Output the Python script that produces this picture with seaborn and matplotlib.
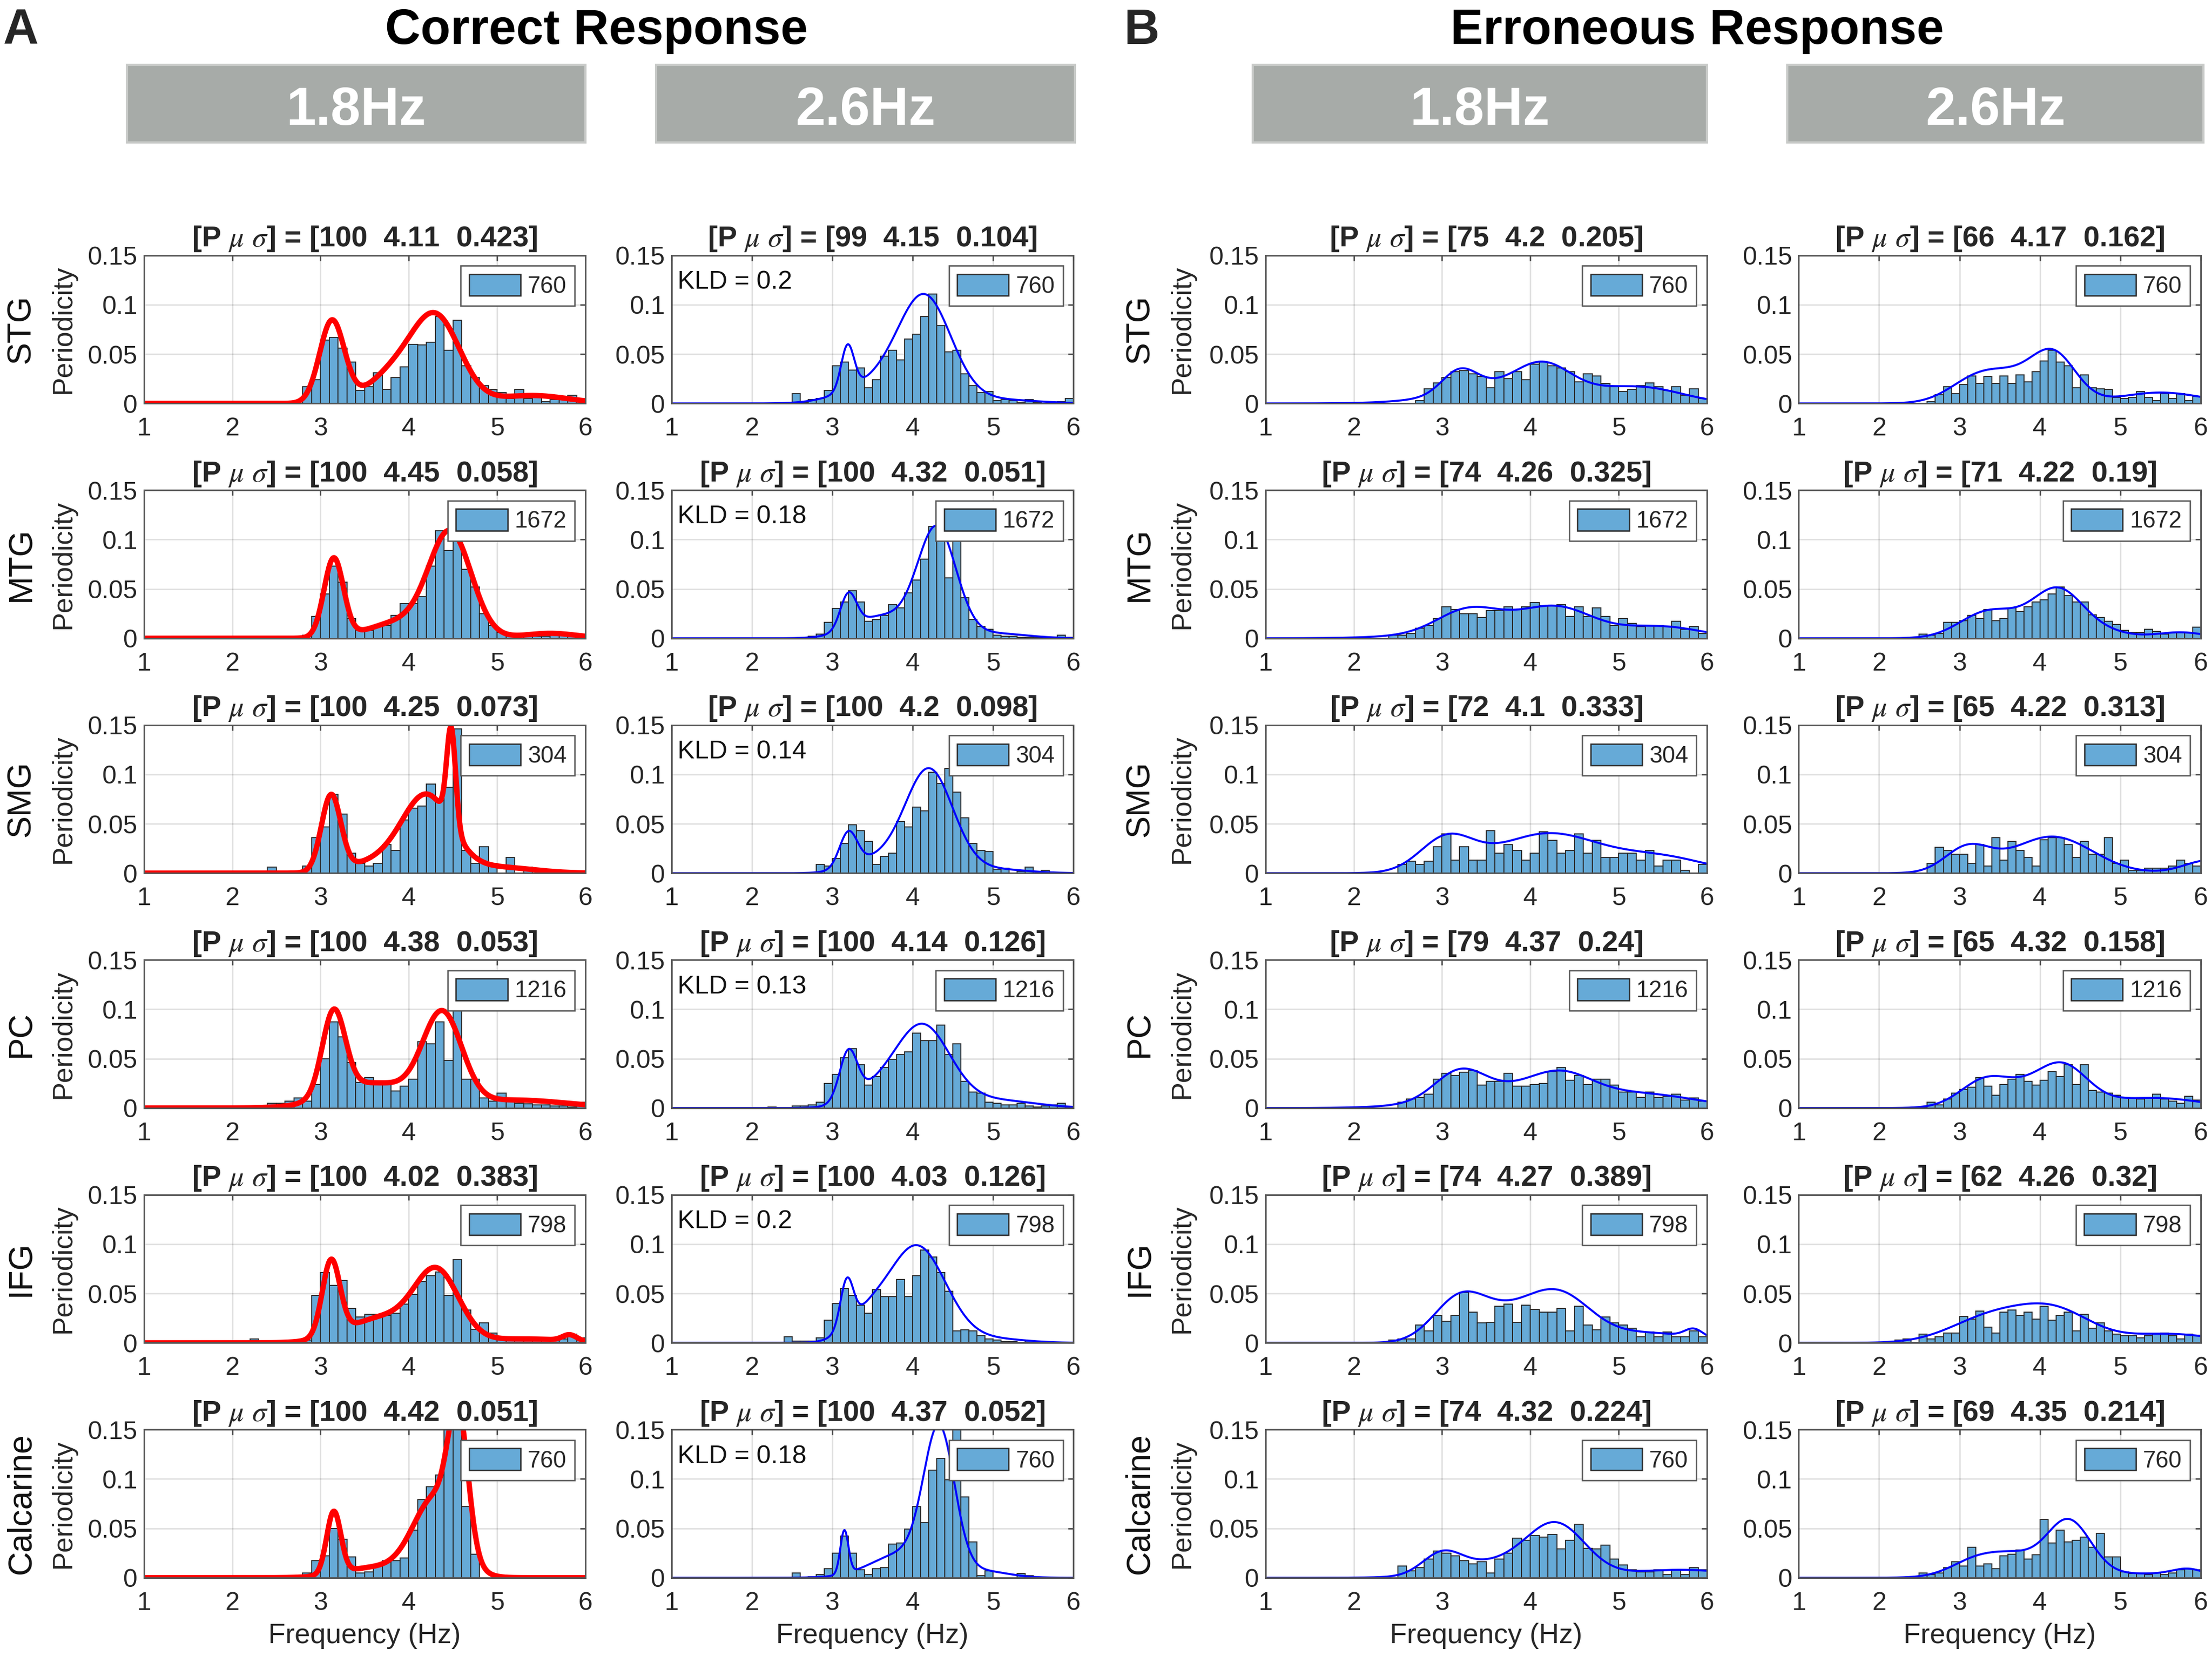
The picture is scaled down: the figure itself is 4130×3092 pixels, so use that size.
import numpy as np
import pandas as pd
import matplotlib
matplotlib.use('Agg')
import matplotlib.pyplot as plt
from matplotlib.patches import Patch, Rectangle
import seaborn as sns

# ----------------------------------------- data -----------------------------------------
regions = ['STG', 'MTG', 'SMG', 'PC', 'IFG', 'Calcarine']
counts = [760, 1672, 304, 1216, 798, 760]
freq_tags = ['1.8Hz', '2.6Hz', '1.8Hz', '2.6Hz']

# histogram bins are 0.1 Hz wide, values below start at 2.0 Hz (nothing drawn below that)
bin_start, bin_width = 2.0, 0.1

# [P mu sigma] titles
params_c18 = ['100  4.11  0.423', '100  4.45  0.058', '100  4.25  0.073', '100  4.38  0.053', '100  4.02  0.383', '100  4.42  0.051']
params_c26 = ['99  4.15  0.104', '100  4.32  0.051', '100  4.2  0.098', '100  4.14  0.126', '100  4.03  0.126', '100  4.37  0.052']
params_e18 = ['75  4.2  0.205', '74  4.26  0.325', '72  4.1  0.333', '79  4.37  0.24', '74  4.27  0.389', '74  4.32  0.224']
params_e26 = ['66  4.17  0.162', '71  4.22  0.19', '65  4.22  0.313', '65  4.32  0.158', '62  4.26  0.32', '69  4.35  0.214']
kld_c26 = ['0.2', '0.18', '0.14', '0.13', '0.2', '0.18']

# correct response, 1.8Hz
hist_c18_stg = [0,0,0,0,0,0,0,0,.017,.024, .064,.067,.056,.042,.013,.017,.031,.014,.026,.037, .060,.059,.062,.088,.054,.084,.038,.026,.018,.014, .011,.005,.014,.005,.006,.002,.004,.005,.008,.003]
hist_c18_mtg = [0,0,0,0,0,0,0,0,.003,.022, .045,.073,.057,.020,.008,.008,.013,.013,.023,.035, .035,.042,.073,.109,.089,.106,.070,.052,.025,.013, .006,.004,.003,.002,.002,.002,.003,.003,.002,.001]
hist_c18_smg = [0,0,0,0,.006,0,0,0,.007,.036, .047,.080,.060,.020,.010,.007,.010,.029,.023,.054, .066,.068,.090,.075,.087,.146,.023,.010,.027,.010, 0,.016,0,.006,0,0,0,0,0,0]
hist_c18_pc = [0,0,0,0,.005,.005,.007,.010,.007,.024, .050,.087,.072,.046,.026,.031,.027,.026,.017,.022, .029,.067,.065,.087,.048,.100,.029,.029,.010,.007, .015,.007,.005,.004,.003,.003,.002,.002,.001,.006]
hist_c18_ifg = [0,0,.004,0,0,0,0,.003,.003,.048, .071,.058,.063,.035,.026,.029,.029,.028,.030,.039, .049,.062,.068,.072,.048,.084,.033,.014,.020,.010, .006,.005,.004,.004,.003,.003,.003,.004,.009,.005]
hist_c18_calc = [0,0,0,0,0,0,0,0,.005,.017, .022,.050,.039,.021,.005,.006,.012,.017,.017,.020, .048,.079,.092,.104,.160,.160,.072,.024,0,0, 0,0,0,0,0,0,0,0,0,0]

# correct response, 2.6Hz
hist_c26_stg = [0,0,0,0,0,.010,.001,.004,.005,.013, .038,.042,.034,.036,.016,.024,.048,.054,.044,.065, .070,.088,.111,.079,.052,.054,.030,.018,.011,.012, .003,.004,.003,.001,.004,.001,0,0,.002,.005]
hist_c26_mtg = [0,0,0,0,0,0,0,.002,.004,.016, .030,.037,.048,.037,.017,.019,.023,.034,.031,.046, .059,.080,.113,.112,.061,.105,.041,.019,.012,.009, .003,.002,.002,.001,.001,.001,.001,.001,.003,.001]
hist_c26_smg = [0,0,0,0,0,0,0,0,.009,.007, .015,.030,.049,.043,.032,.009,.017,.020,.052,.047, .067,.063,.102,.091,.106,.082,.056,.030,.023,.022, .004,.005,0,.002,.006,0,.003,0,0,0]
hist_c26_pc = [0,0,.001,0,0,.002,.002,.003,.006,.025, .034,.051,.060,.044,.023,.032,.041,.049,.054,.057, .076,.068,.068,.084,.054,.065,.027,.016,.015,.006, .005,.003,.003,.005,.002,.001,.002,.003,.005,.001]
hist_c26_ifg = [0,0,0,0,.006,.002,.002,.002,.005,.023, .040,.055,.048,.038,.030,.054,.047,.047,.064,.047, .068,.094,.087,.071,.052,.012,.013,.012,.007,.004, .003,.001,.001,0,.002,.002,0,0,0,0]
hist_c26_calc = [0,0,0,0,0,.005,0,.001,.003,.009, .025,.042,.025,.008,.003,.009,.010,.034,.035,.049, .072,.056,.109,.121,.099,.155,.082,.036,.002,.007, 0,0,0,.004,.002,0,0,0,0,0]

# erroneous response, 1.8Hz
hist_e18_stg = [0,0,0,0,0,0,0,.003,.015,.021, .026,.032,.033,.030,.027,.016,.032,.025,.032,.024, .040,.042,.038,.036,.032,.022,.030,.028,.020,.017, .012,.014,.018,.021,.017,.013,.017,.008,.015,.005]
hist_e18_mtg = [0,0,0,0,.003,.003,.005,.010,.013,.020, .032,.029,.025,.025,.021,.028,.028,.032,.029,.032, .036,.033,.033,.034,.022,.032,.022,.031,.022,.013, .020,.015,.012,.013,.013,.012,.017,.009,.012,.005]
hist_e18_smg = [0,0,0,0,0,.009,.012,.009,.012,.027, .040,.013,.027,.013,.013,.043,.020,.029,.023,.013, .020,.042,.033,.020,.023,.040,.020,.033,.016,.016, .020,.020,.013,.023,.007,.013,.013,.003,0,.009]
hist_e18_pc = [0,0,0,0,0,.006,.009,.011,.014,.029, .035,.033,.036,.038,.023,.027,.027,.035,.022,.022, .024,.025,.037,.041,.028,.033,.024,.029,.029,.023, .016,.016,.011,.016,.011,.012,.014,.008,.010,.007]
hist_e18_ifg = [0,0,0,0,.003,.004,.004,.018,.012,.028, .022,.028,.051,.031,.020,.021,.037,.039,.021,.038, .034,.031,.031,.035,.012,.037,.018,.013,.026,.020, .018,.015,.006,.011,.006,.011,.006,.006,.012,.006]
hist_e18_calc = [0,0,0,0,0,.012,.007,.010,.019,.027, .025,.022,.017,.014,.016,.005,.019,.025,.040,.038, .043,.041,.044,.029,.038,.054,.030,.029,.033,.019, .013,.008,.006,.006,.008,.003,.008,.003,.010,.008]

# erroneous response, 2.6Hz
hist_e26_stg = [0,0,0,0,0,0,.002,.009,.017,.010, .019,.028,.020,.027,.020,.028,.020,.029,.022,.032, .043,.054,.042,.038,.016,.029,.016,.015,.014,.006, .005,.006,.012,.006,.003,.010,.005,.010,.003,.007]
hist_e26_mtg = [0,0,0,0,0,.004,.003,.005,.016,.016, .018,.023,.020,.029,.018,.020,.031,.027,.032,.037, .039,.045,.052,.043,.037,.037,.024,.021,.017,.014, .008,.006,.006,.009,.007,.004,.006,.006,.006,.011]
hist_e26_smg = [0,0,0,0,0,0,.010,.026,.023,.019, .019,.010,.029,.007,.036,.013,.032,.023,.016,.007, .034,.036,.036,.029,.016,.032,.019,.019,.036,.010, .013,.003,.003,.005,.005,.005,.007,.013,.010,.007]
hist_e26_pc = [0,0,0,0,0,.001,.006,.003,.009,.015, .019,.021,.031,.022,.013,.024,.029,.034,.027,.023, .028,.037,.032,.044,.024,.044,.018,.016,.015,.013, .010,.010,.009,.010,.014,.009,.007,.005,.012,.008]
hist_e26_ifg = [0,0,.003,.004,0,.009,.004,.006,.010,.010, .027,.024,.032,.016,.010,.031,.033,.028,.031,.024, .037,.023,.028,.031,.012,.029,.015,.020,.012,.009, .007,.007,.005,.007,.009,.010,.007,.004,.009,.008]
hist_e26_calc = [0,0,0,0,0,.005,.003,.005,.010,.016, .012,.031,.012,.014,.009,.022,.024,.028,.019,.023, .059,.035,.048,.036,.038,.041,.031,.045,.021,.021, .006,.004,.004,.003,.005,.003,.005,.008,.009,.008]

fit_c18_stg = [(3.13, 0.14, 0.083), (4.32, 0.27, 0.082), (3.85, 0.30, 0.030), (5.4, 0.40, 0.008)]
fit_c18_mtg = [(3.15, 0.11, 0.080), (4.47, 0.24, 0.105), (3.9, 0.35, 0.016), (5.6, 0.30, 0.005)]
fit_c18_smg = [(3.12, 0.11, 0.077), (4.2, 0.28, 0.078), (4.48, 0.05, 0.098), (3.6, 0.30, 0.010), (5.0, 0.40, 0.006)]
fit_c18_pc = [(3.15, 0.13, 0.085), (4.38, 0.22, 0.090), (3.6, 0.45, 0.025), (5.2, 0.60, 0.008)]
fit_c18_ifg = [(3.12, 0.10, 0.076), (4.32, 0.25, 0.068), (3.7, 0.40, 0.025), (5.82, 0.08, 0.006), (5.3, 0.50, 0.004)]
fit_c18_calc = [(3.15, 0.08, 0.063), (4.56, 0.11, 0.130), (4.3, 0.25, 0.080), (3.6, 0.35, 0.010)]

fit_c26_stg = [(3.19, 0.08, 0.045), (4.15, 0.33, 0.105), (3.5, 0.40, 0.018), (5.0, 0.50, 0.004)]
fit_c26_mtg = [(3.2, 0.10, 0.035), (4.3, 0.24, 0.110), (3.6, 0.35, 0.022), (5.0, 0.40, 0.005)]
fit_c26_smg = [(3.2, 0.11, 0.035), (4.2, 0.30, 0.105), (3.5, 0.30, 0.012), (5.0, 0.40, 0.004)]
fit_c26_pc = [(3.2, 0.11, 0.049), (4.12, 0.34, 0.082), (3.5, 0.30, 0.014), (5.0, 0.50, 0.008)]
fit_c26_ifg = [(3.18, 0.08, 0.047), (4.05, 0.36, 0.098), (3.4, 0.25, 0.020), (5.0, 0.40, 0.004)]
fit_c26_calc = [(3.15, 0.05, 0.044), (4.33, 0.19, 0.140), (3.9, 0.40, 0.025), (4.9, 0.30, 0.006)]

fit_e18_stg = [(3.2, 0.20, 0.023), (4.15, 0.30, 0.023), (5.3, 0.45, 0.014), (3.9, 0.70, 0.020)]
fit_e18_mtg = [(3.3, 0.35, 0.022), (4.3, 0.40, 0.024), (5.5, 0.45, 0.011), (3.8, 0.80, 0.010)]
fit_e18_smg = [(3.05, 0.30, 0.033), (4.2, 0.60, 0.040), (5.5, 0.50, 0.015)]
fit_e18_pc = [(3.2, 0.28, 0.027), (4.35, 0.35, 0.021), (5.3, 0.60, 0.013), (3.8, 0.70, 0.018)]
fit_e18_ifg = [(3.2, 0.30, 0.042), (4.35, 0.35, 0.040), (3.8, 0.40, 0.026), (5.85, 0.10, 0.008), (5.3, 0.60, 0.010)]
fit_e18_calc = [(3.0, 0.22, 0.020), (4.3, 0.33, 0.050), (5.7, 0.60, 0.008), (3.6, 0.50, 0.015)]

fit_e26_stg = [(3.25, 0.35, 0.027), (4.17, 0.28, 0.049), (5.5, 0.50, 0.011), (3.7, 0.30, 0.015)]
fit_e26_mtg = [(3.35, 0.35, 0.026), (4.22, 0.30, 0.045), (5.75, 0.30, 0.006), (3.8, 0.30, 0.006), (4.7, 0.35, 0.008)]
fit_e26_smg = [(3.1, 0.28, 0.025), (4.15, 0.50, 0.037), (6.1, 0.30, 0.013)]
fit_e26_pc = [(3.3, 0.30, 0.021), (4.3, 0.30, 0.030), (3.9, 0.50, 0.020), (5.45, 0.55, 0.010)]
fit_e26_ifg = [(3.4, 0.50, 0.026), (4.2, 0.45, 0.030), (5.6, 0.55, 0.009)]
fit_e26_calc = [(3.3, 0.35, 0.022), (4.35, 0.28, 0.058), (5.85, 0.20, 0.007), (3.75, 0.25, 0.012), (5.3, 0.50, 0.004)]

# ----------------------------------------- helpers -----------------------------------------
def fit_curve(x, comps):
    y = np.zeros_like(x)
    for mu, sd, amp in comps:
        y += amp * np.exp(-0.5 * ((x - mu) / sd) ** 2)
    return y

columns = [
    dict(hists=[hist_c18_stg, hist_c18_mtg, hist_c18_smg, hist_c18_pc, hist_c18_ifg, hist_c18_calc],
         fits=[fit_c18_stg, fit_c18_mtg, fit_c18_smg, fit_c18_pc, fit_c18_ifg, fit_c18_calc],
         params=params_c18, color='#ff0000', lw=2.4, kld=None),
    dict(hists=[hist_c26_stg, hist_c26_mtg, hist_c26_smg, hist_c26_pc, hist_c26_ifg, hist_c26_calc],
         fits=[fit_c26_stg, fit_c26_mtg, fit_c26_smg, fit_c26_pc, fit_c26_ifg, fit_c26_calc],
         params=params_c26, color='#0000ff', lw=0.9, kld=kld_c26),
    dict(hists=[hist_e18_stg, hist_e18_mtg, hist_e18_smg, hist_e18_pc, hist_e18_ifg, hist_e18_calc],
         fits=[fit_e18_stg, fit_e18_mtg, fit_e18_smg, fit_e18_pc, fit_e18_ifg, fit_e18_calc],
         params=params_e18, color='#0000ff', lw=0.9, kld=None),
    dict(hists=[hist_e26_stg, hist_e26_mtg, hist_e26_smg, hist_e26_pc, hist_e26_ifg, hist_e26_calc],
         fits=[fit_e26_stg, fit_e26_mtg, fit_e26_smg, fit_e26_pc, fit_e26_ifg, fit_e26_calc],
         params=params_e26, color='#0000ff', lw=0.9, kld=None),
]

# ----------------------------------------- style -----------------------------------------
sns.set_theme(style='white')
plt.rcParams['font.family'] = ['Liberation Sans', 'DejaVu Sans']
plt.rcParams['mathtext.fontset'] = 'stix'

bar_face = '#66aad7'
bar_edge = '#2b2b2b'

fig = plt.figure(figsize=(4130 / 300, 3092 / 300), dpi=300)

# layout in reference pixels (1568 x 1174 view)
W, H = 1568.0, 1174.0
col_left = [102, 476, 897, 1275]
col_width = [313, 285, 313, 285]
row_top = [181 + 166.5 * i for i in range(6)]
ax_h = 105

edges = [round(bin_start + bin_width * i, 2) for i in range(41)]
centers = [round(e + bin_width / 2, 3) for e in edges[:-1]]
grid_x = np.linspace(1, 6, 600)

for c, col in enumerate(columns):
    for r in range(6):
        rect = [col_left[c] / W, 1 - (row_top[r] + ax_h) / H, col_width[c] / W, ax_h / H]
        ax = fig.add_axes(rect)

        hist_df = pd.DataFrame({'freq': centers, 'periodicity': col['hists'][r]})
        sns.histplot(data=hist_df, x='freq', weights='periodicity', bins=edges, ax=ax,
                     color=bar_face, alpha=1.0, edgecolor=bar_edge, linewidth=0.45)
        fit_df = pd.DataFrame({'freq': grid_x, 'fit': fit_curve(grid_x, col['fits'][r])})
        sns.lineplot(data=fit_df, x='freq', y='fit', ax=ax,
                     color=col['color'], linewidth=col['lw'], estimator=None, sort=False)

        ax.set_xlim(1, 6)
        ax.set_ylim(0, 0.15)
        ax.set_xticks([1, 2, 3, 4, 5, 6])
        ax.set_xticklabels(['1', '2', '3', '4', '5', '6'])
        ax.set_yticks([0, 0.05, 0.1, 0.15])
        ax.set_yticklabels(['0', '0.05', '0.1', '0.15'])
        ax.set_xlabel('')
        ax.set_ylabel('')
        ax.set_axisbelow(True)
        ax.grid(True, color='#000000', alpha=0.13, linewidth=0.6)
        ax.tick_params(axis='both', direction='in', length=2.5, width=0.6, color='#444444',
                       labelsize=11.5, labelcolor='#262626', top=True, right=True)
        ax.tick_params(axis='x', pad=6)
        ax.tick_params(axis='y', pad=3)
        for sp in ax.spines.values():
            sp.set_visible(True)
            sp.set_color('#555555')
            sp.set_linewidth(0.7)

        ax.set_title(r'[P $\mu$ $\sigma$] = [' + col['params'][r] + ']',
                     fontsize=13, fontweight='bold', pad=4)

        handle = Patch(facecolor=bar_face, edgecolor=bar_edge, linewidth=0.6, label=str(counts[r]))
        leg = ax.legend(handles=[handle], loc='upper right', fontsize=10.5, handlelength=2.2,
                        handleheight=1.05, handletextpad=0.3, borderpad=0.35, borderaxespad=0.45,
                        fancybox=False, framealpha=1, edgecolor='#555555')
        leg.get_frame().set_linewidth(0.6)

        if col['kld'] is not None:
            ax.text(0.015, 0.82, 'KLD = ' + col['kld'][r], transform=ax.transAxes,
                    fontsize=11.5, ha='left', va='center', color='#111111')

        if r == 5:
            fig.text((col_left[c] + col_width[c] / 2) / W, 0.012, 'Frequency (Hz)',
                     ha='center', va='center', fontsize=12.5, color='#262626')

        if c in (0, 2):
            yc = 1 - (row_top[r] + ax_h / 2) / H
            x_reg = 15 if c == 0 else 808
            x_per = 45 if c == 0 else 838
            fig.text(x_reg / W, yc, regions[r], rotation=90, ha='center', va='center',
                     fontsize=15, color='#111111')
            fig.text(x_per / W, yc, 'Periodicity', rotation=90, ha='center', va='center',
                     fontsize=12.5, color='#262626')

# gray frequency header boxes
box_x = [(90, 415), (465, 762), (888, 1210), (1267, 1562)]
for (x0, x1), tag in zip(box_x, freq_tags):
    fig.patches.append(Rectangle((x0 / W, 1 - 101 / H), (x1 - x0) / W, 55 / H,
                                 transform=fig.transFigure, facecolor='#a7aba8',
                                 edgecolor='#c8cac8', linewidth=1.0))
    fig.text((x0 + x1) / 2 / W, 1 - 88.5 / H, tag, ha='center', va='baseline',
             fontsize=24, fontweight='bold', color='white')

# panel headings
fig.text(423 / W, 1 - 31 / H, 'Correct Response', ha='center', va='baseline',
         fontsize=22, fontweight='bold', color='black')
fig.text(1203 / W, 1 - 31 / H, 'Erroneous Response', ha='center', va='baseline',
         fontsize=22, fontweight='bold', color='black')
fig.text(2 / W, 1 - 31 / H, 'A', ha='left', va='baseline', fontsize=22, fontweight='bold')
fig.text(797 / W, 1 - 31 / H, 'B', ha='left', va='baseline', fontsize=22, fontweight='bold')

fig.savefig('out.png', dpi=300)
